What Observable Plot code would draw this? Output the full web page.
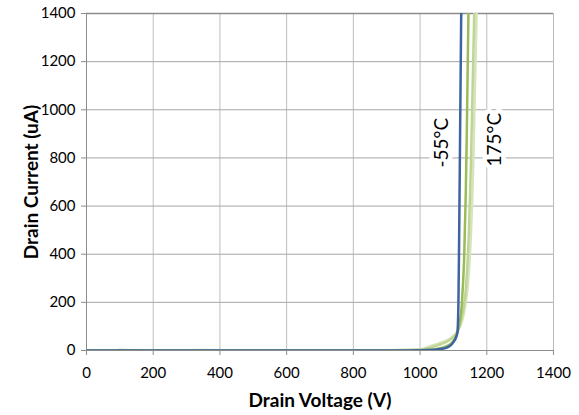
<!DOCTYPE html>
<html>
<head>
<meta charset="utf-8">
<script src="https://cdn.jsdelivr.net/npm/d3@7"></script>
<script src="https://cdn.jsdelivr.net/npm/@observablehq/plot@0.6"></script>
<style>
html,body{margin:0;padding:0;background:#fff;}
#chart{width:579px;height:415px;}
</style>
</head>
<body>
<div id="chart"></div>
<script>
const xTicks = [0, 200, 400, 600, 800, 1000, 1200, 1400];
const yTicks = [0, 200, 400, 600, 800, 1000, 1200, 1400];

const seriesNames = ["-55°C", "25°C", "125°C", "175°C"];
const seriesColors = ["#3d64a0", "#9bbb59", "#c0d595", "#d5e4bc"];

const vM55 = [0, 200, 400, 600, 800, 950, 1000, 1040, 1070, 1090, 1100, 1108, 1112, 1115, 1117, 1119, 1121, 1123, 1125];
const iM55 = [0, 0, 0, 0, 0, 0, 1, 3, 8, 20, 35, 55, 75, 200, 450, 750, 1050, 1350, 1600];

const v25 = [0, 80, 100, 200, 400, 600, 800, 950, 1000, 1050, 1080, 1100, 1115, 1125, 1132, 1137, 1140, 1143, 1146];
const i25 = [0, 0, 2, 0, 0, 0, 0, 0, 1, 6, 18, 40, 90, 190, 380, 650, 900, 1200, 1500];

const v125 = [0, 200, 350, 500, 700, 900, 1000, 1030, 1060, 1090, 1110, 1125, 1138, 1146, 1152, 1156, 1160, 1164];
const i125 = [0, 0, 2, 0, 0, 0, 3, 12, 25, 45, 75, 140, 270, 480, 750, 1000, 1250, 1500];

const v175 = [0, 200, 400, 600, 800, 1000, 1030, 1060, 1090, 1115, 1132, 1145, 1153, 1159, 1163, 1167, 1171];
const i175 = [0, 0, 0, 0, 0, 5, 18, 32, 50, 85, 160, 300, 500, 750, 1000, 1250, 1500];

const labelText = ["-55°C", "175°C"];
const labelV = [1065, 1224];
const labelI = [863, 876];

const rows = [];
[[vM55, iM55], [v25, i25], [v125, i125], [v175, i175]].forEach(([vs, is], k) => {
  vs.forEach((v, j) => rows.push({series: seriesNames[k], v, i: is[j]}));
});
const labels = labelText.map((t, k) => ({t, v: labelV[k], i: labelI[k]}));

const font = "Lato, 'Open Sans', sans-serif";

const plot = Plot.plot({
  width: 579,
  height: 415,
  marginLeft: 86,
  marginRight: 26,
  marginTop: 13,
  marginBottom: 65,
  style: {fontFamily: font, fontSize: "15px", color: "#000", background: "#fff"},
  x: {domain: [0, 1400], ticks: xTicks, label: null},
  y: {domain: [0, 1400], ticks: yTicks, label: null},
  color: {domain: seriesNames, range: seriesColors},
  marks: [
    Plot.gridX(xTicks, {stroke: "#bdbdbd", strokeOpacity: 1, strokeWidth: 1}),
    Plot.gridY(yTicks, {stroke: "#a6a6a6", strokeOpacity: 1, strokeWidth: 1}),
    Plot.ruleY([1400], {stroke: "#8c8c8c", strokeWidth: 1.5}),
    Plot.axisX({ticks: xTicks, tickFormat: d => String(d), stroke: "#8c8c8c", tickSize: 5, tickPadding: 12, fontSize: 15, label: null}),
    Plot.axisY({ticks: yTicks, tickFormat: d => String(d), stroke: "#8c8c8c", tickSize: 5, tickPadding: 6, fontSize: 15, label: null}),
    Plot.ruleX([0], {stroke: "#8c8c8c"}),
    Plot.ruleY([0], {stroke: "#8c8c8c"}),
    Plot.line(rows.filter(d => d.series !== "-55°C").reverse(), {x: "v", y: "i", z: "series", stroke: "series", strokeWidth: 2.5, curve: "monotone-x", clip: true}),
    Plot.line(rows.filter(d => d.series === "-55°C"), {x: "v", y: "i", stroke: "series", strokeWidth: 2.5, curve: "monotone-x", clip: true}),
    Plot.text(labels, {x: "v", y: "i", text: "t", rotate: -90, fontSize: 19, fill: "#000", stroke: "white", strokeWidth: 9, paintOrder: "stroke"}),
    Plot.text(["Drain Voltage (V)"], {frameAnchor: "bottom", textAnchor: "middle", lineAnchor: "middle", dy: 50, fontSize: 19, fontWeight: "bold", fill: "#000"}),
    Plot.text(["Drain Current (uA)"], {frameAnchor: "left", textAnchor: "middle", lineAnchor: "middle", dx: -55, rotate: -90, fontSize: 19, fontWeight: "bold", fill: "#000"})
  ]
});
document.getElementById("chart").appendChild(plot);
</script>
</body>
</html>
